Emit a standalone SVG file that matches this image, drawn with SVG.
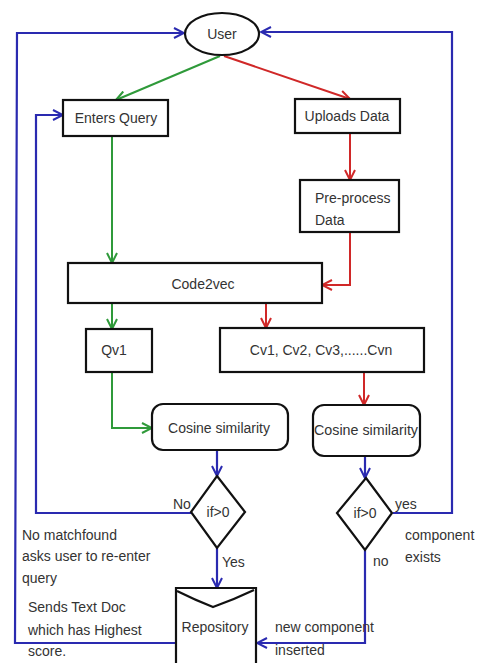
<svg xmlns="http://www.w3.org/2000/svg" width="479" height="663" viewBox="0 0 479 663">
<style>
  .box{fill:#fff;stroke:#111;stroke-width:2.2}
  .t{font-family:"Liberation Sans",Arial,sans-serif;font-size:14px;fill:#333}
  .c{text-anchor:middle}
  .b{fill:none;stroke:#2a2ab0;stroke-width:2.2}
  .g{fill:none;stroke:#2f9a3a;stroke-width:2}
  .r{fill:none;stroke:#d02828;stroke-width:2}
</style>
<defs>
  <marker id="ab" viewBox="0 0 12 12" refX="11" refY="6" markerWidth="12" markerHeight="12" markerUnits="userSpaceOnUse" orient="auto"><path d="M1,1 L11,6 L1,11" fill="none" stroke="#2a2ab0" stroke-width="2"/></marker>
  <marker id="ag" viewBox="0 0 12 12" refX="11" refY="6" markerWidth="12" markerHeight="12" markerUnits="userSpaceOnUse" orient="auto"><path d="M1,1 L11,6 L1,11" fill="none" stroke="#2f9a3a" stroke-width="2"/></marker>
  <marker id="ar" viewBox="0 0 12 12" refX="11" refY="6" markerWidth="12" markerHeight="12" markerUnits="userSpaceOnUse" orient="auto"><path d="M1,1 L11,6 L1,11" fill="none" stroke="#d02828" stroke-width="2"/></marker>
</defs>
<rect width="479" height="663" fill="#fff"/>
<g id="connectors">
  <polyline class="b" points="176,643 15,643 17,33 184,33" marker-end="url(#ab)"/>
  <polyline class="b" points="393,513 452,513 452,32 261,32" marker-end="url(#ab)"/>
  <polyline class="b" points="191,513 36,513 36,115 63,115" marker-end="url(#ab)"/>
  <line class="b" x1="217" y1="450" x2="217" y2="476" marker-end="url(#ab)"/>
  <line class="b" x1="365" y1="456" x2="365" y2="478" marker-end="url(#ab)"/>
  <line class="b" x1="217" y1="548" x2="217" y2="588" marker-end="url(#ab)"/>
  <polyline class="b" points="365,550 365,643 257,643" marker-end="url(#ab)"/>
  <line class="g" x1="220" y1="56" x2="116" y2="100" marker-end="url(#ag)"/>
  <line class="g" x1="112" y1="136" x2="112" y2="263" marker-end="url(#ag)"/>
  <line class="g" x1="112" y1="303" x2="112" y2="329" marker-end="url(#ag)"/>
  <polyline class="g" points="112,372 112,428 152,428" marker-end="url(#ag)"/>
  <line class="r" x1="224" y1="56" x2="350" y2="99" marker-end="url(#ar)"/>
  <line class="r" x1="350" y1="133" x2="350" y2="180" marker-end="url(#ar)"/>
  <polyline class="r" points="350,232 350,285 322,285" marker-end="url(#ar)"/>
  <line class="r" x1="266" y1="303" x2="266" y2="328" marker-end="url(#ar)"/>
  <line class="r" x1="364" y1="372" x2="364" y2="405" marker-end="url(#ar)"/>
</g>
<g id="user"><ellipse class="box" cx="222" cy="34" rx="37" ry="21"/><text class="t c" x="222" y="39">User</text></g>
<g id="enters-query"><rect class="box" x="63" y="100" width="105" height="36"/><text class="t c" x="116" y="123">Enters Query</text></g>
<g id="uploads-data"><rect class="box" x="295" y="99" width="105" height="34"/><text class="t c" x="347" y="121">Uploads Data</text></g>
<g id="preprocess"><rect class="box" x="300" y="180" width="99" height="52"/><text class="t" x="315" y="203">Pre-process</text><text class="t" x="315" y="225">Data</text></g>
<g id="code2vec"><rect class="box" x="68" y="263" width="254" height="40"/><text class="t c" x="203" y="289">Code2vec</text></g>
<g id="qv1"><rect class="box" x="86" y="329" width="66" height="43"/><text class="t c" x="114" y="355">Qv1</text></g>
<g id="cv"><rect class="box" x="220" y="328" width="204" height="44"/><text class="t c" x="321" y="355">Cv1, Cv2, Cv3,......Cvn</text></g>
<g id="cosine1"><rect class="box" x="152" y="404" width="136" height="46" rx="11"/><text class="t c" x="219" y="433">Cosine similarity</text></g>
<g id="cosine2"><rect class="box" x="313" y="405" width="107" height="51" rx="11"/><text class="t c" x="366" y="435" textLength="104" lengthAdjust="spacingAndGlyphs">Cosine similarity</text></g>
<g id="decision1"><polygon class="box" points="217,476 245,512 217,548 191,512"/><text class="t c" x="218" y="517" font-size="13">if&gt;0</text></g>
<g id="decision2"><polygon class="box" points="366,478 392,513 365,550 337,513"/><text class="t c" x="365" y="518" font-size="13">if&gt;0</text></g>
<g id="repository"><path class="box" d="M176,663 L176,588 L256,588 L256,663"/><path d="M177,591 Q195,600 213,607 Q233,600 254,590" fill="none" stroke="#111" stroke-width="2.2"/><text class="t c" x="215" y="632">Repository</text></g>
<g id="labels">
  <text class="t" x="173" y="509">No</text>
  <text class="t" x="222" y="567">Yes</text>
  <text class="t" x="395" y="509">yes</text>
  <text class="t" x="373" y="566">no</text>
  <text class="t" x="405" y="540">component</text>
  <text class="t" x="405" y="562">exists</text>
  <text class="t" x="22" y="540">No matchfound</text>
  <text class="t" x="22" y="561">asks user to re-enter</text>
  <text class="t" x="22" y="583">query</text>
  <text class="t" x="28" y="612">Sends Text Doc</text>
  <text class="t" x="28" y="635">which has Highest</text>
  <text class="t" x="28" y="656">score.</text>
  <text class="t" x="275" y="632">new component</text>
  <text class="t" x="275" y="655">inserted</text>
</g>
</svg>
